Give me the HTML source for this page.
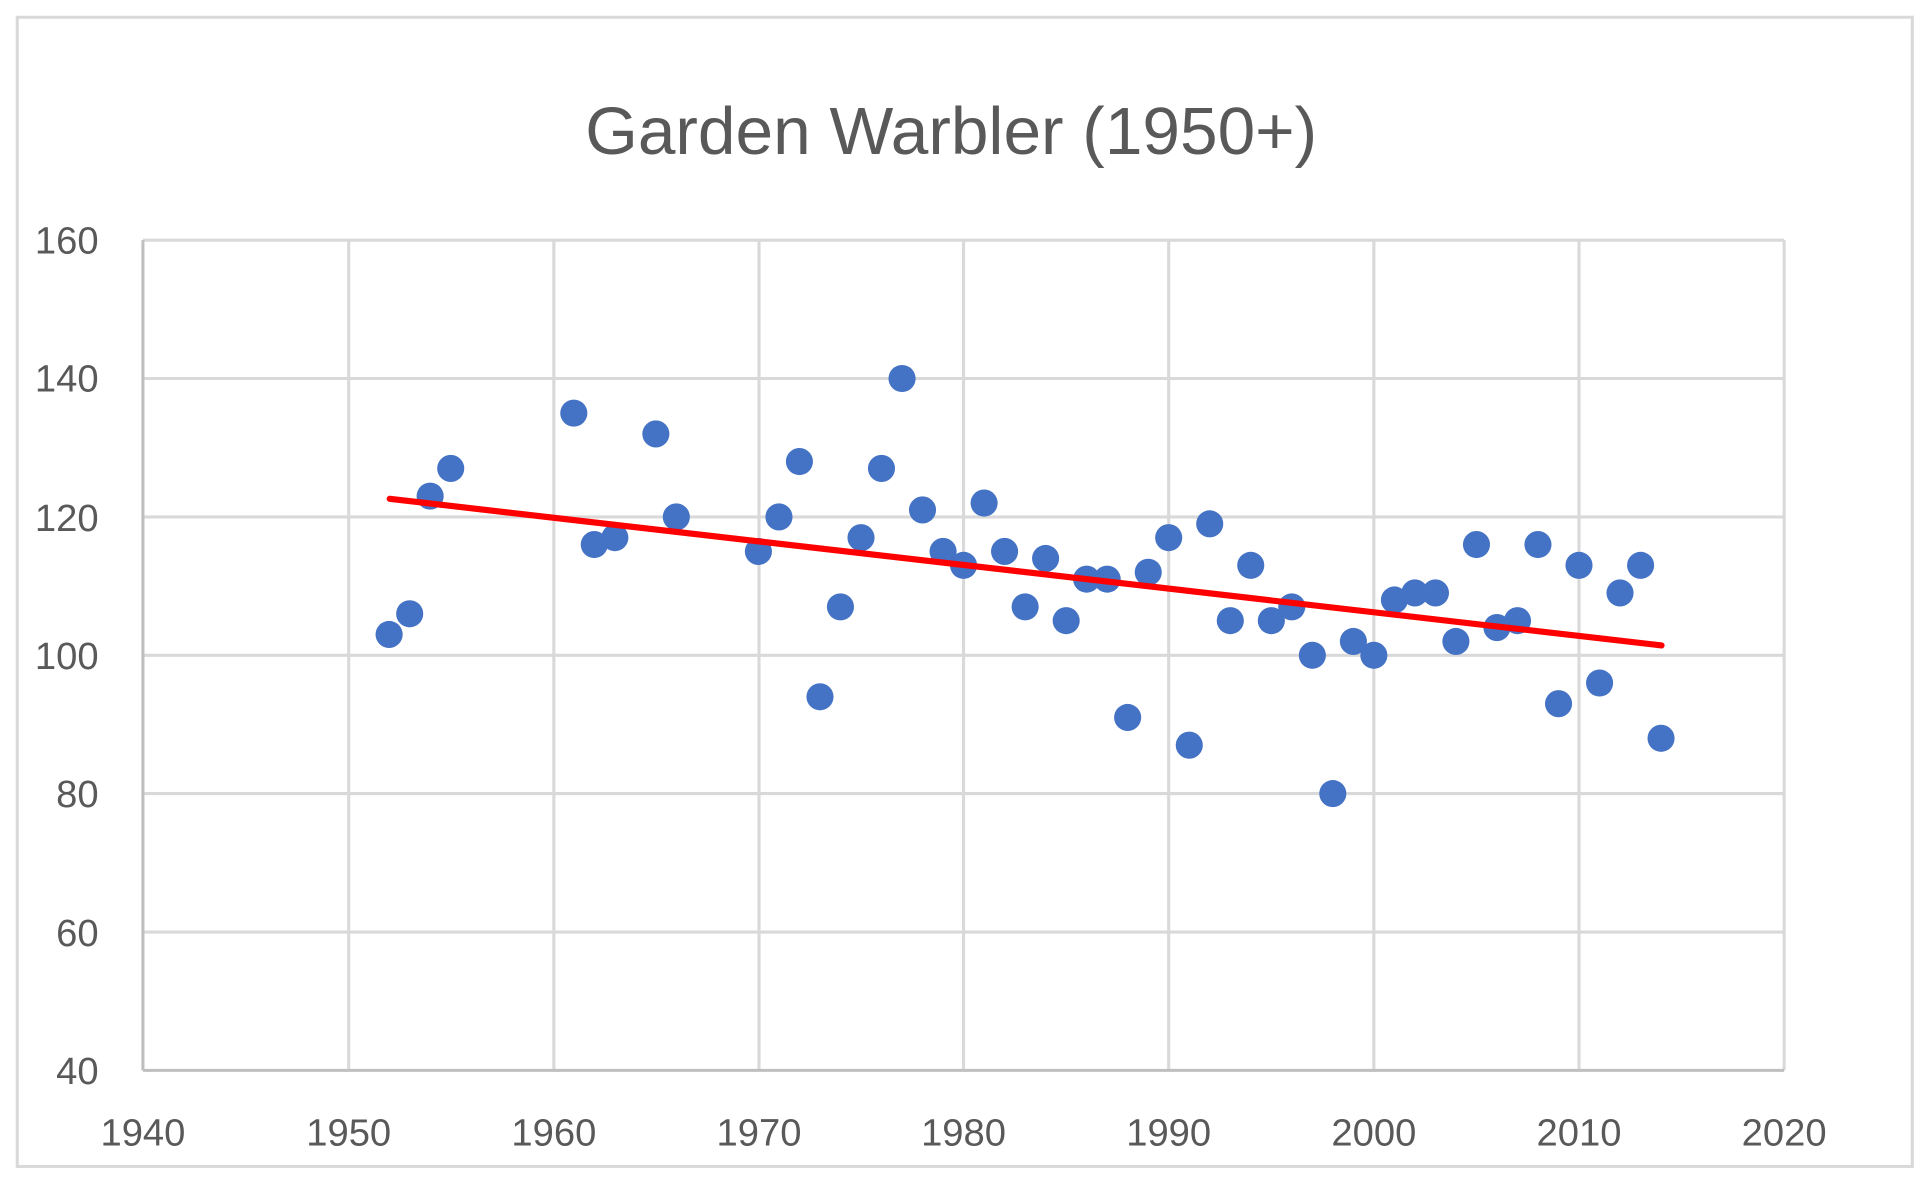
<!DOCTYPE html>
<html><head><style>html,body{margin:0;padding:0;background:#fff;}svg{display:block}</style></head>
<body>
<svg width="1932" height="1196" viewBox="0 0 1568 971" preserveAspectRatio="none" xmlns="http://www.w3.org/2000/svg" font-family="'Liberation Sans', sans-serif">
<rect x="0" y="0" width="1568" height="971" fill="#fff"/>
<rect x="14" y="14" width="1538" height="933" fill="none" stroke="#d9d9d9" stroke-width="2.5"/>
<text x="772" y="125" text-anchor="middle" font-size="54" fill="#595959" textLength="594" lengthAdjust="spacingAndGlyphs">Garden Warbler (1950+)</text>
<g stroke="#d9d9d9" stroke-width="2.5">
<line x1="116" x2="1448" y1="195" y2="195"/>
<line x1="116" x2="1448" y1="307.3" y2="307.3"/>
<line x1="116" x2="1448" y1="419.7" y2="419.7"/>
<line x1="116" x2="1448" y1="532" y2="532"/>
<line x1="116" x2="1448" y1="644.3" y2="644.3"/>
<line x1="116" x2="1448" y1="756.7" y2="756.7"/>
<line x1="283" x2="283" y1="195" y2="869"/>
<line x1="449.5" x2="449.5" y1="195" y2="869"/>
<line x1="616" x2="616" y1="195" y2="869"/>
<line x1="782" x2="782" y1="195" y2="869"/>
<line x1="948.5" x2="948.5" y1="195" y2="869"/>
<line x1="1115" x2="1115" y1="195" y2="869"/>
<line x1="1281.5" x2="1281.5" y1="195" y2="869"/>
<line x1="1448" x2="1448" y1="195" y2="869"/>
</g>
<g stroke="#bfbfbf" stroke-width="2.5">
<line x1="116" x2="116" y1="195" y2="869"/>
<line x1="116" x2="1448" y1="869" y2="869"/>
</g>
<g font-size="31" fill="#595959" text-anchor="end">
<text x="80" y="206">160</text><text x="80" y="318">140</text><text x="80" y="431">120</text>
<text x="80" y="543">100</text><text x="80" y="655">80</text><text x="80" y="768">60</text><text x="80" y="880">40</text>
</g>
<g font-size="31" fill="#595959" text-anchor="middle">
<text x="116" y="930">1940</text><text x="283" y="930">1950</text><text x="449.5" y="930">1960</text>
<text x="616" y="930">1970</text><text x="782" y="930">1980</text><text x="948.5" y="930">1990</text>
<text x="1115" y="930">2000</text><text x="1281.5" y="930">2010</text><text x="1448" y="930">2020</text>
</g>
<g fill="#4472C4">
<circle cx="315.8" cy="515.1" r="11"/><circle cx="332.5" cy="498.3" r="11"/><circle cx="349.1" cy="402.8" r="11"/><circle cx="365.8" cy="380.3" r="11"/>
<circle cx="465.7" cy="335.4" r="11"/><circle cx="482.3" cy="442.1" r="11"/><circle cx="499.0" cy="436.5" r="11"/><circle cx="532.3" cy="352.3" r="11"/>
<circle cx="548.9" cy="419.7" r="11"/><circle cx="615.5" cy="447.7" r="11"/><circle cx="632.2" cy="419.7" r="11"/><circle cx="648.8" cy="374.7" r="11"/>
<circle cx="665.5" cy="565.7" r="11"/><circle cx="682.1" cy="492.7" r="11"/><circle cx="698.8" cy="436.5" r="11"/><circle cx="715.4" cy="380.3" r="11"/>
<circle cx="732.1" cy="307.3" r="11"/><circle cx="748.7" cy="414" r="11"/><circle cx="765.4" cy="447.7" r="11"/><circle cx="782" cy="459" r="11"/>
<circle cx="798.7" cy="408.4" r="11"/><circle cx="815.3" cy="447.7" r="11"/><circle cx="832" cy="492.7" r="11"/><circle cx="848.6" cy="453.4" r="11"/>
<circle cx="865.3" cy="503.9" r="11"/><circle cx="881.9" cy="470.2" r="11"/><circle cx="898.6" cy="470.2" r="11"/><circle cx="915.2" cy="582.5" r="11"/>
<circle cx="931.9" cy="464.6" r="11"/><circle cx="948.5" cy="436.5" r="11"/><circle cx="965.2" cy="605" r="11"/><circle cx="981.8" cy="425.3" r="11"/>
<circle cx="998.5" cy="503.9" r="11"/><circle cx="1015.1" cy="459" r="11"/><circle cx="1031.8" cy="503.9" r="11"/><circle cx="1048.4" cy="492.7" r="11"/>
<circle cx="1065.1" cy="532" r="11"/><circle cx="1081.7" cy="644.3" r="11"/><circle cx="1098.4" cy="520.8" r="11"/><circle cx="1115" cy="532" r="11"/>
<circle cx="1131.7" cy="487.1" r="11"/><circle cx="1148.3" cy="481.4" r="11"/><circle cx="1165" cy="481.4" r="11"/><circle cx="1181.6" cy="520.8" r="11"/>
<circle cx="1198.3" cy="442.1" r="11"/><circle cx="1214.9" cy="509.5" r="11"/><circle cx="1231.6" cy="503.9" r="11"/><circle cx="1248.2" cy="442.1" r="11"/>
<circle cx="1264.9" cy="571.3" r="11"/><circle cx="1281.5" cy="459" r="11"/><circle cx="1298.2" cy="554.5" r="11"/><circle cx="1314.8" cy="481.4" r="11"/>
<circle cx="1331.5" cy="459" r="11"/><circle cx="1348.1" cy="599.4" r="11"/>
</g>
<line x1="316.3" y1="405" x2="1348.5" y2="524" stroke="#ff0000" stroke-width="5" stroke-linecap="round"/>
</svg>
</body></html>
